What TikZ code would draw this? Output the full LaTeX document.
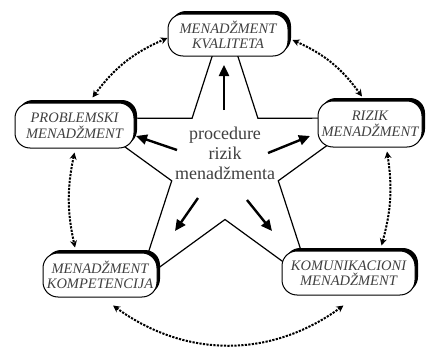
\documentclass[tikz,border=0pt]{standalone}
\usepackage{fontspec}
\setmainfont{Liberation Serif}
\usetikzlibrary{shadows,arrows.meta}
\definecolor{txt}{gray}{0.25}
\begin{document}
\begin{tikzpicture}[x=1pt,y=-1pt,
  box/.style={draw=black, line width=1pt, fill=white, rounded corners=15pt, inner sep=0pt,
    align=center, text=txt, font=\fontsize{14.5}{15.5}\selectfont\itshape,
    general shadow={fill=black, shadow xshift=3pt, shadow yshift=3pt}},
  starline/.style={line width=1.2pt, line join=miter},
  bigarrow/.style={line width=2.4pt, -{Triangle[length=11pt,width=10pt]}},
  dotarrow/.style={line width=2pt, dash pattern=on 2.2pt off 1.3pt,
    {Stealth[length=7pt,width=7pt]}-{Stealth[length=7pt,width=7pt]}}
]
\useasboundingbox (0,0) rectangle (429,348);
\fill[white] (0,0) rectangle (429,348);

% star
\draw[starline] (225,16.5) -- (257.9,118.2) -- (364.8,118.1) -- (278.3,180.8) -- (311.4,282.4)
  -- (225,219.5) -- (138.6,282.4) -- (171.7,180.8) -- (85.2,118.1) -- (192.1,118.2) -- cycle;

% boxes
\node[box, minimum width=120pt, minimum height=42pt] (kval) at (228,35) {MENADŽMENT\\KVALITETA};
\node[box, minimum width=119pt, minimum height=45pt] (prob) at (74.5,125.5) {PROBLEMSKI\\MENADŽMENT};
\node[box, minimum width=104pt, minimum height=46pt] (riz) at (370,124) {RIZIK\\MENADŽMENT};
\node[box, minimum width=114pt, minimum height=44pt] (komp) at (100,275) {MENADŽMENT\\KOMPETENCIJA};
\node[box, minimum width=133pt, minimum height=44pt] (kom) at (348.5,273) {KOMUNIKACIONI\\MENADŽMENT};

% centre text
\node[font=\fontsize{18}{20}\selectfont, text=txt, align=center] (proc) at (225,153) {procedure\\rizik\\menadžmenta};

% solid arrows
\coordinate (u1) at (224,110); \coordinate (u2) at (224,65);
\coordinate (l1) at (177,150); \coordinate (l2) at (136,136);
\coordinate (r1) at (268,153); \coordinate (r2) at (310,136);
\coordinate (ll1) at (198,198); \coordinate (ll2) at (175,231);
\coordinate (lr1) at (247,200); \coordinate (lr2) at (272,231);
\draw[bigarrow] (u1) -- (u2);
\draw[bigarrow] (l1) -- (l2);
\draw[bigarrow] (r1) -- (r2);
\draw[bigarrow] (ll1) -- (ll2);
\draw[bigarrow] (lr1) -- (lr2);

% dotted arrows
\draw[dotarrow] ([xshift=18pt,yshift=5pt]prob.north) to[bend left=15] ([yshift=-3pt]kval.west);
\draw[dotarrow] ([xshift=4pt,yshift=-5pt]kval.east) to[bend left=15] ([xshift=-8pt,yshift=4pt]riz.north);
\draw[dotarrow] ([yshift=-4pt]prob.south) to[bend right=12] ([xshift=-25pt,yshift=5pt]komp.north);
\draw[dotarrow] ([xshift=17pt,yshift=-4pt]riz.south) to[bend left=12] ([xshift=33pt,yshift=5pt]kom.north);
\draw[dotarrow] ([xshift=13pt,yshift=-8pt]komp.south) to[bend right=36] ([xshift=-5pt,yshift=-10pt]kom.south);
\end{tikzpicture}
\end{document}
